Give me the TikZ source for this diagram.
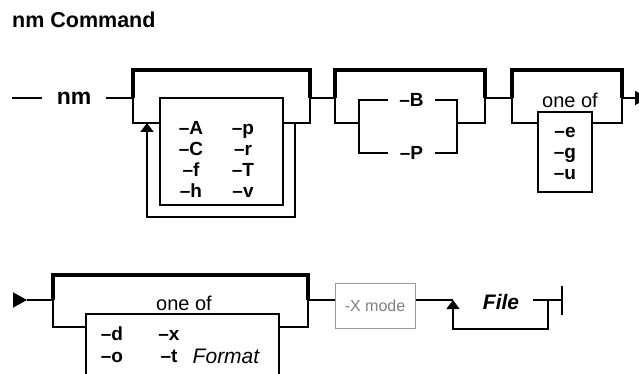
\documentclass[tikz,border=0pt]{standalone}
\usepackage{fontspec}
\setmainfont{Liberation Sans}
\usetikzlibrary{
    positioning,
    arrows.meta
}
\tikzset{
    >={Triangle[length=9pt,width=13pt]},
    rail/.style={line width=1.5pt},
    bracket/.style={line width=3.2pt},
    headtext/.style={font=\fontsize{21.5}{21.5}\selectfont\bfseries, inner sep=0pt},
    cmdtext/.style={font=\fontsize{23}{23}\selectfont\bfseries, inner xsep=15pt, inner ysep=0pt},
    flagtext/.style={font=\fontsize{19}{19}\selectfont\bfseries, inner sep=0pt,
        text height=13.5pt, text depth=0pt},
    oneoftext/.style={font=\fontsize{20}{20}\selectfont, inner sep=0pt},
    argtext/.style={font=\fontsize{21}{21}\selectfont\itshape, inner sep=0pt},
    listbox/.style={draw, line width=1.5pt, inner sep=0pt},
    modebox/.style={draw=black!40, line width=1pt, inner sep=0pt,
        text=black!50, font=\fontsize{16}{16}\selectfont}
}

\begin{document}
\begin{tikzpicture}[
    x=1pt,
    y=-1pt,
    node distance=21pt,
    on grid
]
    \useasboundingbox (0,0) rectangle (639,374);

    % Titel
    \node[headtext, anchor=west] (title) at (12,20) {nm Command};

    % Erste Zeile
    \coordinate (lead) at (12,98);
    \node[cmdtext] (nm) at (74,98) {nm};
    \draw[rail] (lead) -- (nm.west);

    % Gruppe 1: wiederholbare Optionen
    \coordinate (g1w) at (133,98);
    \coordinate (g1e) at (310,98);
    \coordinate (g1sw) at (133,123);
    \coordinate (g1se) at (310,123);
    \node[listbox, minimum width=123pt, minimum height=107pt] (list1) at (221.5,151.5) {};
    \node[flagtext] (optA) at (191,128) {–A};
    \node[flagtext] (optC) [below=of optA] {–C};
    \node[flagtext] (optf) [below=of optC] {–f};
    \node[flagtext] (opth) [below=of optf] {–h};
    \node[flagtext] (optp) at (243,128) {–p};
    \node[flagtext] (optr) [below=of optp] {–r};
    \node[flagtext] (optT) [below=of optr] {–T};
    \node[flagtext] (optv) [below=of optT] {–v};
    \coordinate (loop1l) at (147,123);
    \coordinate (loop1r) at (295,123);
    \coordinate (loop1b) at (295,217);

    \draw[rail] (nm.east) -- (g1w);
    \draw[bracket] (g1w) -- ++(0,-28) -| (g1e);
    \draw[rail] (g1w) -- (g1sw) -- (list1.west |- g1sw);
    \draw[rail] (list1.east |- g1se) -- (g1se) -- (g1e);
    \draw[rail, ->] (loop1r) -- (loop1b) -| (loop1l);

    % Gruppe 2: -B oder -P
    \coordinate (g2w) at (335,98);
    \coordinate (g2e) at (485,98);
    \coordinate (g2sw) at (335,123);
    \coordinate (g2se) at (485,123);
    \coordinate (ch2w) at (359,123);
    \coordinate (ch2e) at (457,123);
    \node[flagtext, minimum width=47pt] (optB) at (411.5,100) {–B};
    \node[flagtext, minimum width=47pt] (optP) at (411.5,153) {–P};

    \draw[rail] (g1e) -- (g2w);
    \draw[bracket] (g2w) -- ++(0,-28) -| (g2e);
    \draw[rail] (g2w) -- (g2sw) -- (ch2w);
    \draw[rail] (ch2e) -- (g2se) -- (g2e);
    \draw[rail] (ch2w) |- (optB.west);
    \draw[rail] (ch2w) |- (optP.west);
    \draw[rail] (optB.east) -| (ch2e);
    \draw[rail] (optP.east) -| (ch2e);

    % Gruppe 3: one of -e -g -u
    \coordinate (g3w) at (512,98);
    \coordinate (g3e) at (622,98);
    \coordinate (g3sw) at (512,123);
    \coordinate (g3se) at (622,123);
    \coordinate (exit1) at (648,98);
    \node[oneoftext] (oneof3) at (570,100) {one of};
    \node[listbox, minimum width=54pt, minimum height=80pt] (list3) at (565,152) {};
    \node[flagtext] (opte) at (565,131) {–e};
    \node[flagtext] (optg) [below=of opte] {–g};
    \node[flagtext] (optu) [below=of optg] {–u};

    \draw[rail] (g2e) -- (g3w);
    \draw[bracket] (g3w) -- ++(0,-28) -| (g3e);
    \draw[rail] (g3w) -- (g3sw) -- (list3.west |- g3sw);
    \draw[rail] (list3.east |- g3se) -- (g3se) -- (g3e);
    \draw[rail, -{Triangle[length=13pt,width=14pt]}] (g3e) -- (exit1);

    % Zweite Zeile
    \coordinate (start2) at (13,300);
    \coordinate (start2tip) at (27,300);
    \coordinate (g4w) at (53,300);
    \coordinate (g4e) at (308,300);
    \coordinate (g4sw) at (53,327);
    \coordinate (g4se) at (308,327);
    \node[oneoftext] (oneof4) at (184,303) {one of};
    \node[listbox, minimum width=193pt, minimum height=66pt] (list4) at (182.5,347) {};
    \node[flagtext] (optd) at (112,334) {–d};
    \node[flagtext] (opto) [below=22pt of optd] {–o};
    \node[flagtext] (optx) at (169,334) {–x};
    \node[flagtext] (optt) [below=22pt of optx] {–t};
    \node[argtext] (format) [right=57pt of optt] {Format};

    \draw[rail, -{Triangle[length=14pt,width=15pt]}] (start2) -- (start2tip);
    \draw[rail] (start2tip) -- (g4w);
    \draw[bracket] (g4w) -- ++(0,-25) -| (g4e);
    \draw[rail] (g4w) -- (g4sw) -- (list4.west |- g4sw);
    \draw[rail] (list4.east |- g4se) -- (g4se) -- (g4e);

    % -X mode und File
    \node[modebox, minimum width=80pt, minimum height=45pt] (mode) at (375,305.5) {-X mode};
    \node[argtext, font=\fontsize{21}{21}\selectfont\bfseries\itshape, minimum width=64pt] (file) at (501,302) {File};
    \coordinate (rep) at (453,300);
    \coordinate (repend) at (548,300);
    \coordinate (repbot) at (548,329);
    \coordinate (endbar) at (562,300);

    \draw[rail] (g4e) -- (g4e -| mode.west);
    \draw[rail] (mode.east |- rep) -- (rep);
    \draw[rail] (file.east |- repend) -- (repend) -- (endbar);
    \draw[rail, ->] (repend) -- (repbot) -| (rep);
    \draw[rail] ([yshift=14pt]endbar) -- ([yshift=-15pt]endbar);

\end{tikzpicture}
\end{document}
